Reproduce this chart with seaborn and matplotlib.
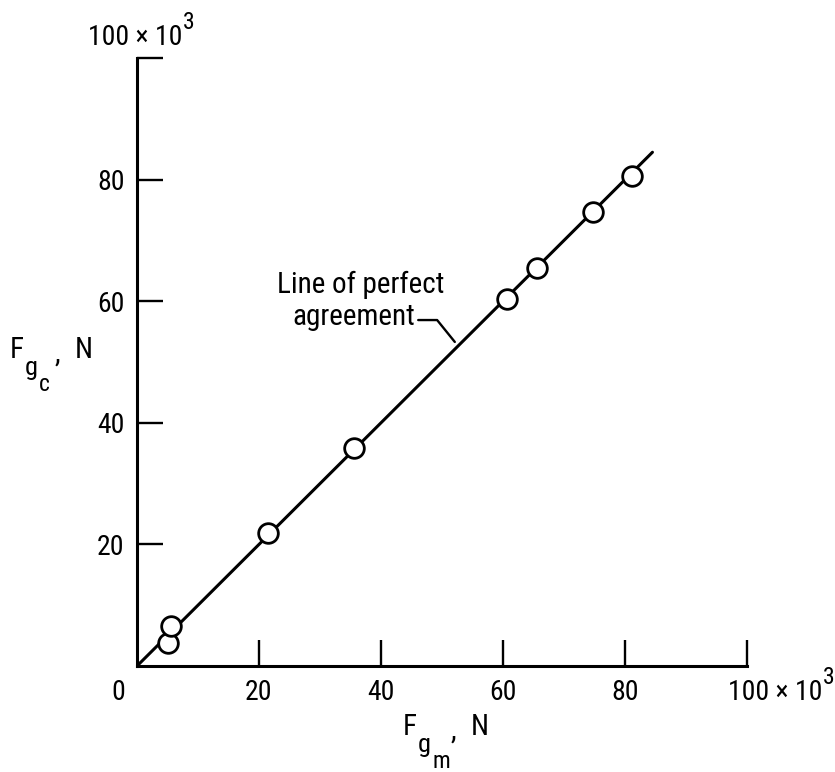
import os
import matplotlib
matplotlib.use("Agg")
import matplotlib.pyplot as plt
import matplotlib.font_manager as fm
from matplotlib.font_manager import FontProperties
import seaborn as sns
import pandas as pd

# Measured vs. computed gross thrust, in units of 10^3 N
fg_measured = [5.0, 5.5, 21.4, 35.6, 60.6, 65.5, 74.7, 81.1]
fg_computed = [3.8, 6.5, 21.9, 35.9, 60.3, 65.4, 74.7, 80.6]
agreement_x = [0.0, 84.5]
agreement_y = [0.0, 84.5]
tick_values = [20, 40, 60, 80]
tick_labels = ["20", "40", "60", "80"]


def narrow_font_file():
    """Return the narrowest sans-serif regular face that is installed."""
    wanted = [
        "liberationsansnarrow-regular.ttf",
        "robotocondensed-regular.ttf",
        "notosans-condensed.ttf",
        "opensans_condensed-regular.ttf",
        "opensanscondensed-regular.ttf",
        "dejavusanscondensed.ttf",
        "liberationsans-regular.ttf",
    ]
    files = {os.path.basename(f.fname).lower(): f.fname
             for f in fm.fontManager.ttflist}
    for name in wanted:
        if name in files:
            return files[name]
    return fm.findfont("DejaVu Sans")


sns.set_theme(style="ticks")
plt.rcParams["text.color"] = "black"
FONT_FILE = narrow_font_file()


def fp(size):
    return FontProperties(fname=FONT_FILE, size=size)


W, H = 835, 772
fig = plt.figure(figsize=(W / 100, H / 100), dpi=100)
ax = fig.add_axes([137 / W, 1 - 666 / H, (747 - 137) / W, (666 - 58) / H])

points = pd.DataFrame({"measured": fg_measured, "computed": fg_computed})
line = pd.DataFrame({"x": agreement_x, "y": agreement_y})

sns.lineplot(data=line, x="x", y="y", ax=ax, color="black", linewidth=2.2,
             zorder=2, legend=False)
sns.scatterplot(data=points, x="measured", y="computed", ax=ax, marker="o",
                s=200, facecolor="white", edgecolor="black", linewidth=2.0,
                zorder=3, legend=False)

ax.set_xlim(0, 100)
ax.set_ylim(0, 100)
ax.set_xlabel("")
ax.set_ylabel("")
for side in ("top", "right"):
    ax.spines[side].set_visible(False)
for side in ("left", "bottom"):
    ax.spines[side].set_linewidth(2.2)
    ax.spines[side].set_color("black")

ax.set_xticks(tick_values + [100])
ax.set_xticklabels(tick_labels + [""], fontproperties=fp(20))
ax.set_yticks(tick_values + [100])
ax.set_yticklabels(tick_labels + [""], fontproperties=fp(20))
ax.tick_params(axis="both", direction="in", length=19, width=1.7,
               color="black", labelcolor="black")
ax.tick_params(axis="x", pad=9)
ax.tick_params(axis="y", pad=9)

renderer = fig.canvas.get_renderer()


def put(x, y, s, size):
    """Place text with its left edge at x and baseline at y (pixels from top-left)."""
    return fig.text(x / W, 1 - y / H, s, fontproperties=fp(size),
                    ha="left", va="baseline")


def right_edge(t):
    return t.get_window_extent(renderer).x1


def scaled_label(x, y, base, sup):
    t = put(x, y, base, 20)
    put(right_edge(t) + 1, y - 16, sup, 17)


def thrust_label(x, y, sub):
    """F with a stacked g-subscript and a second-level subscript, then ', N'."""
    f = put(x, y, "F", 21)
    g = put(right_edge(f) + 1, y + 17, "g", 19)
    s = put(right_edge(g) + 1, y + 33, sub, 17)
    c = put(max(x + 45, right_edge(s) + 1), y + 4, ",", 21)
    put(right_edge(c) + 14, y, "N", 21)


# origin and end-of-scale labels
fig.text(118 / W, 1 - 700 / H, "0", fontproperties=fp(20), ha="center",
         va="baseline")
scaled_label(728, 700, "100 \u00d7 10", "3")
scaled_label(88, 45, "100 \u00d7 10", "3")

# axis titles
thrust_label(403, 735, "m")
thrust_label(10, 358, "c")

# callout for the line of perfect agreement
fig.text(361 / W, 1 - 293 / H, "Line of perfect", fontproperties=fp(21),
         ha="center", va="baseline")
fig.text(354 / W, 1 - 325 / H, "agreement", fontproperties=fp(21),
         ha="center", va="baseline")
ax.plot([46.1, 49.2, 52.1], [56.9, 56.9, 53.3], color="black", linewidth=1.7)

fig.savefig("out.png", dpi=100, facecolor="white")
